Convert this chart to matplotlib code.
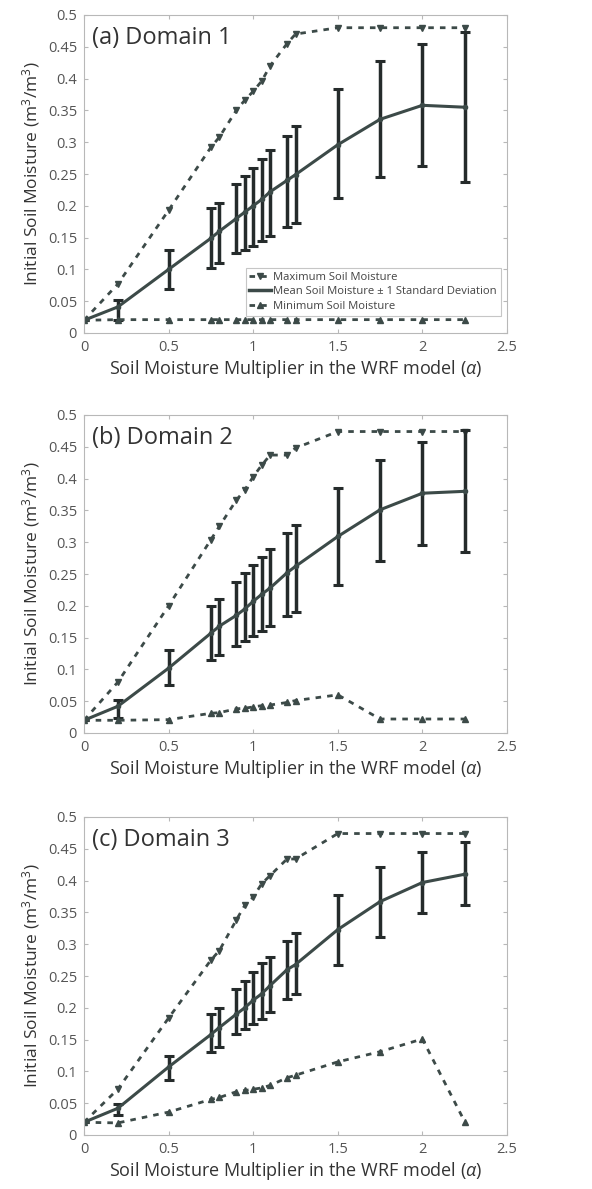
import numpy as np
import matplotlib.pyplot as plt
from matplotlib.lines import Line2D

# Soil moisture multiplier values (alpha)
alpha = [0, 0.2, 0.5, 0.75, 0.8, 0.9, 0.95, 1.0, 1.05, 1.1, 1.2, 1.25, 1.5, 1.75, 2.0, 2.25]

# Domain 1
max_d1 = [0.02, 0.077, 0.193, 0.292, 0.308, 0.35, 0.366, 0.38, 0.396, 0.42, 0.455, 0.47, 0.48, 0.48, 0.48, 0.48]
mean_d1 = [0.02, 0.041, 0.10, 0.149, 0.16, 0.18, 0.19, 0.20, 0.21, 0.222, 0.24, 0.249, 0.296, 0.336, 0.358, 0.355]
up_d1 = [0.02, 0.052, 0.131, 0.196, 0.205, 0.234, 0.247, 0.26, 0.274, 0.287, 0.31, 0.325, 0.383, 0.427, 0.454, 0.474]
lo_d1 = [0.02, 0.021, 0.069, 0.102, 0.11, 0.126, 0.13, 0.137, 0.144, 0.152, 0.166, 0.173, 0.212, 0.245, 0.263, 0.238]
min_d1 = [0.02, 0.021, 0.021, 0.021, 0.021, 0.021, 0.021, 0.021, 0.021, 0.021, 0.021, 0.021, 0.021, 0.021, 0.021, 0.021]

# Domain 2
max_d2 = [0.02, 0.08, 0.20, 0.304, 0.325, 0.366, 0.382, 0.403, 0.421, 0.437, 0.437, 0.448, 0.474, 0.474, 0.474, 0.474]
mean_d2 = [0.02, 0.042, 0.102, 0.157, 0.168, 0.185, 0.195, 0.207, 0.218, 0.228, 0.252, 0.262, 0.309, 0.351, 0.377, 0.38]
up_d2 = [0.02, 0.052, 0.131, 0.199, 0.21, 0.237, 0.251, 0.264, 0.277, 0.289, 0.315, 0.327, 0.385, 0.43, 0.458, 0.476]
lo_d2 = [0.02, 0.024, 0.076, 0.114, 0.123, 0.137, 0.145, 0.153, 0.16, 0.168, 0.184, 0.191, 0.233, 0.27, 0.296, 0.284]
min_d2 = [0.02, 0.02, 0.021, 0.031, 0.032, 0.038, 0.039, 0.041, 0.043, 0.044, 0.048, 0.051, 0.06, 0.022, 0.022, 0.022]

# Domain 3
max_d3 = [0.02, 0.072, 0.184, 0.275, 0.29, 0.338, 0.361, 0.374, 0.395, 0.408, 0.434, 0.434, 0.474, 0.474, 0.474, 0.474]
mean_d3 = [0.02, 0.042, 0.107, 0.158, 0.169, 0.19, 0.20, 0.212, 0.222, 0.235, 0.26, 0.268, 0.323, 0.367, 0.397, 0.41]
up_d3 = [0.02, 0.049, 0.125, 0.19, 0.20, 0.23, 0.242, 0.256, 0.27, 0.28, 0.305, 0.317, 0.377, 0.422, 0.445, 0.461]
lo_d3 = [0.02, 0.031, 0.086, 0.13, 0.138, 0.159, 0.167, 0.174, 0.182, 0.193, 0.214, 0.221, 0.268, 0.312, 0.349, 0.362]
min_d3 = [0.02, 0.019, 0.036, 0.056, 0.059, 0.068, 0.07, 0.072, 0.074, 0.078, 0.09, 0.094, 0.115, 0.131, 0.151, 0.021]

domains = [
    ("(a) Domain 1", max_d1, mean_d1, up_d1, lo_d1, min_d1),
    ("(b) Domain 2", max_d2, mean_d2, up_d2, lo_d2, min_d2),
    ("(c) Domain 3", max_d3, mean_d3, up_d3, lo_d3, min_d3),
]

plt.rcParams['font.family'] = ['Open Sans', 'DejaVu Sans']
plt.rcParams['mathtext.fontset'] = 'custom'
plt.rcParams['mathtext.it'] = 'Open Sans:italic'
plt.rcParams['mathtext.rm'] = 'Open Sans'

W, H = 592, 1189
fig = plt.figure(figsize=(W / 100, H / 100), dpi=100)

line_col = '#3c4a48'
err_col = '#252b2b'
frame_col = '#b8b8b8'
tick_col = '#555555'
dots = (0, (2, 2.2))

tops = [15, 415, 817]
ax_h = 318
left, right = 84, 507

for (title, mx, mean, up, lo, mn), top in zip(domains, tops):
    ax = fig.add_axes([left / W, 1 - (top + ax_h) / H, (right - left) / W, ax_h / H])
    x = np.array(alpha)
    mean = np.array(mean)
    yerr = np.vstack([mean - np.array(lo), np.array(up) - mean])

    ax.plot(x, mx, linestyle=dots, color=line_col, lw=2, marker='v', markersize=5)
    ax.errorbar(x, mean, yerr=yerr, fmt='none', ecolor=err_col, elinewidth=2.5,
                capsize=3.5, capthick=2.2)
    ax.plot(x, mean, '-', color=line_col, lw=2.2, marker='o', markersize=3)
    ax.plot(x, mn, linestyle=dots, color=line_col, lw=2, marker='^', markersize=5)

    ax.set_xlim(0, 2.5)
    ax.set_ylim(0, 0.5)
    ax.set_xticks([0, 0.5, 1, 1.5, 2, 2.5])
    ax.set_xticklabels(['0', '0.5', '1', '1.5', '2', '2.5'])
    ax.set_yticks(np.arange(0, 0.51, 0.05))
    ax.set_yticklabels(['0', '0.05', '0.1', '0.15', '0.2', '0.25', '0.3', '0.35', '0.4', '0.45', '0.5'])
    for s in ax.spines.values():
        s.set_color(frame_col)
        s.set_linewidth(0.8)
    ax.tick_params(direction='in', length=3, color=frame_col, labelcolor=tick_col,
                   labelsize=10.5, top=True, right=True, pad=5)
    ax.set_xlabel(r'Soil Moisture Multiplier in the WRF model ($\alpha$)',
                  fontsize=13, color='#333333', labelpad=2)
    ax.set_ylabel(r'Initial Soil Moisture (m$^3$/m$^3$)', fontsize=12.5,
                  color='#333333', labelpad=4)
    ax.text(0.02, 0.965, title, transform=ax.transAxes, ha='left', va='top',
            fontsize=17, color='#333333')

    if title.startswith('(a)'):
        handles = [
            Line2D([], [], linestyle=dots, color=line_col, lw=2, marker='v', markersize=5),
            Line2D([], [], linestyle='-', color=line_col, lw=2.5),
            Line2D([], [], linestyle=dots, color=line_col, lw=2, marker='^', markersize=5),
        ]
        labels = ['Maximum Soil Moisture',
                  u'Mean Soil Moisture \u00b1 1 Standard Deviation',
                  'Minimum Soil Moisture']
        leg = ax.legend(handles, labels, loc='lower right',
                        bbox_to_anchor=(0.985, 0.055), fontsize=8.1,
                        frameon=True, fancybox=False, handlelength=1.9,
                        handletextpad=0.2, borderpad=0.35, labelspacing=0.3,
                        borderaxespad=0)
        leg.get_frame().set_edgecolor(frame_col)
        leg.get_frame().set_linewidth(0.8)
        for t in leg.get_texts():
            t.set_color('#444444')

fig.savefig('out.png', dpi=100)
